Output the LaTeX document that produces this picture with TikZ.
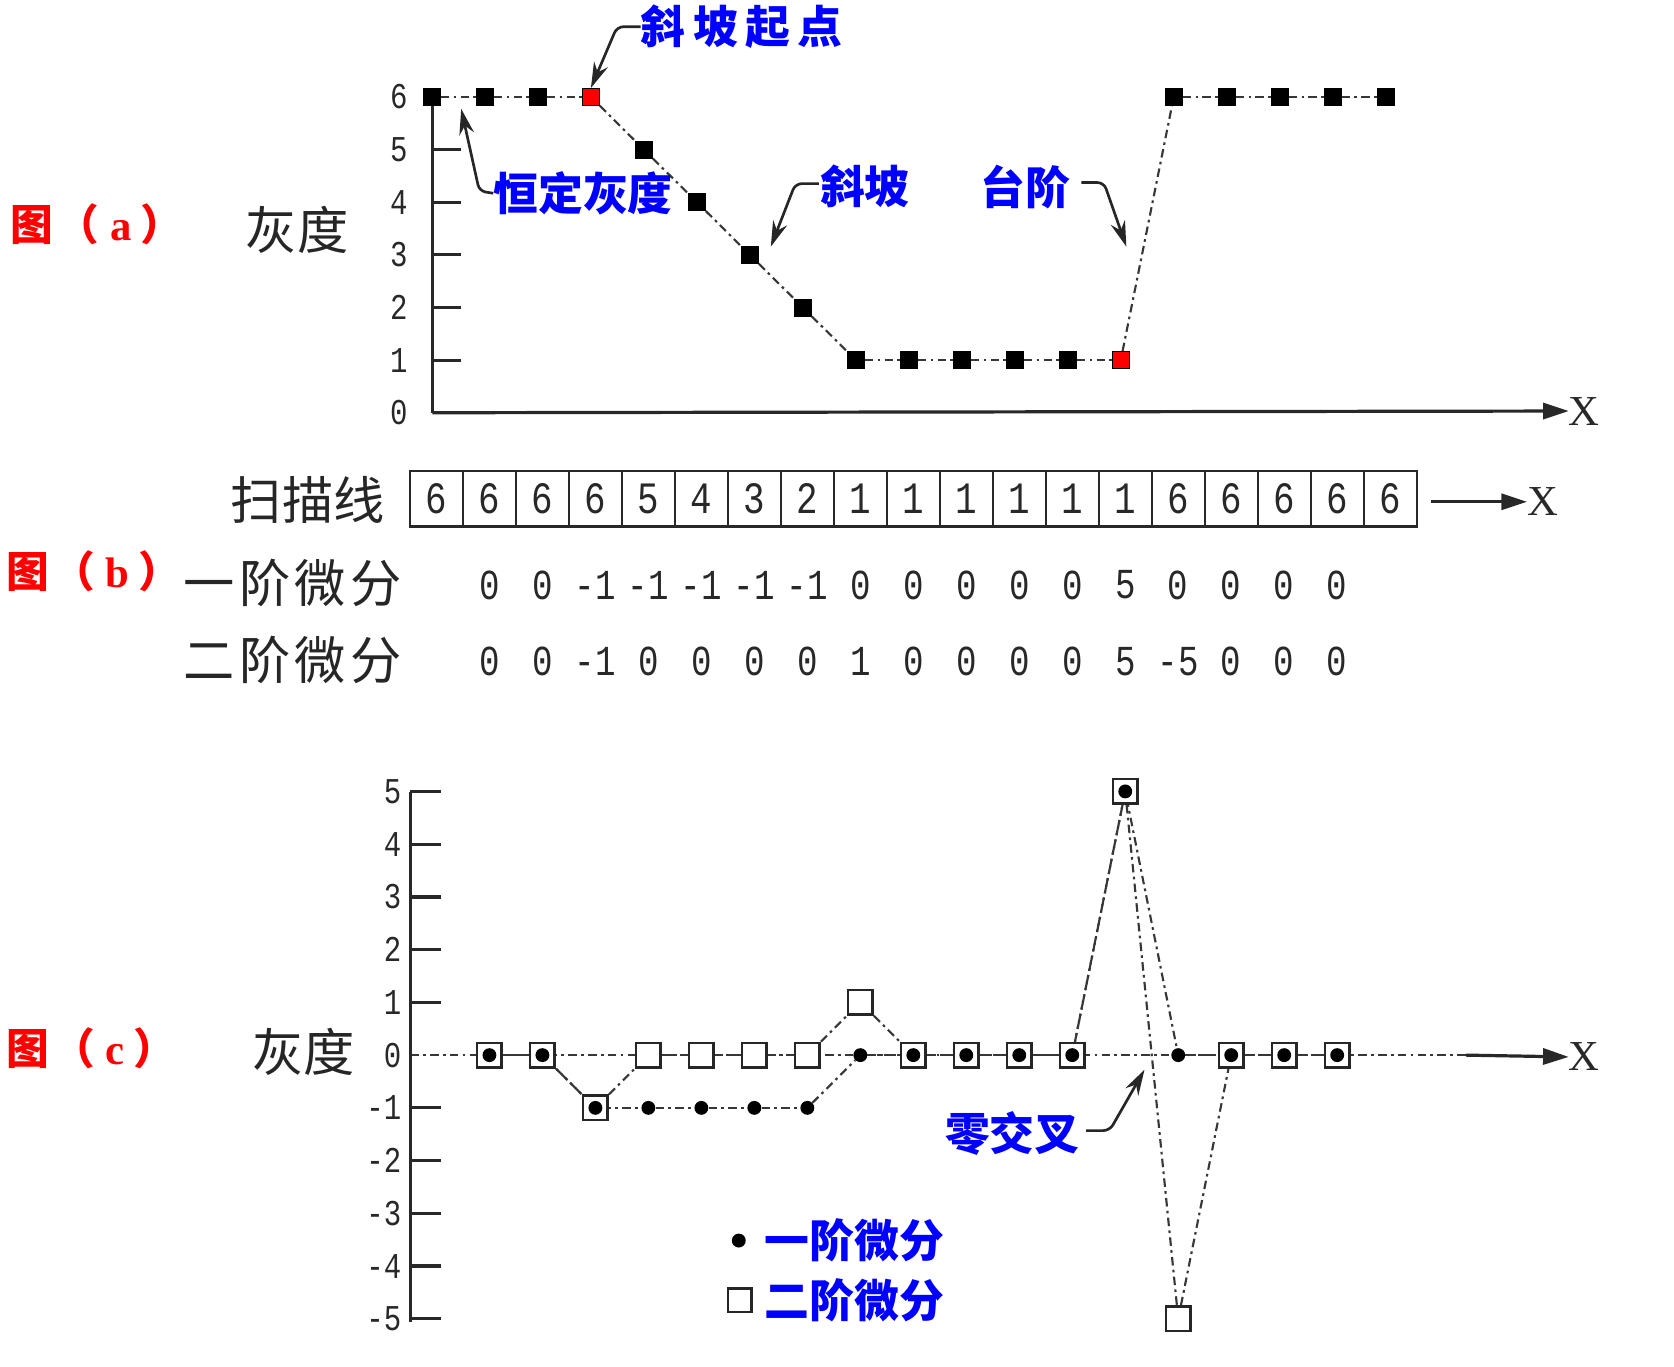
\documentclass[tikz,border=0pt]{standalone}
\usepackage{fontspec}
\usetikzlibrary{arrows.meta,backgrounds}
\newfontfamily\cjk{Noto Sans CJK SC}
\newfontfamily\dig[FakeStretch=0.8]{Liberation Mono}
\newfontfamily\serx{Liberation Serif}
\definecolor{lblblue}{RGB}{0,0,255}
\definecolor{axc}{RGB}{40,40,40}
\definecolor{ddc}{RGB}{55,55,55}
\newcommand{\figtag}[1]{图\hspace{3pt}（\hspace{10pt}{\serx\bfseries #1}\hspace{8pt}）}
\begin{document}
\begin{tikzpicture}[x=1pt,y=-1pt,
  bluelbl/.style={font={\cjk\bfseries\fontsize{42}{42}\selectfont}, text=lblblue, inner sep=0pt, anchor=west},
  blacklbl/.style={font={\cjk\fontsize{48}{48}\selectfont}, inner sep=0pt, anchor=west, text=black!85},
  redlbl/.style={font={\cjk\bfseries\fontsize{40}{40}\selectfont}, text=red, inner sep=0pt, anchor=west},
  ticklbl/.style={font={\dig\fontsize{34}{34}\selectfont}, inner sep=0pt, anchor=east, text=axc},
  vallbl/.style={font={\dig\fontsize{40}{40}\selectfont}, inner sep=0pt, text=axc},
  xlbl/.style={font={\serx\fontsize{40}{40}\selectfont}, inner sep=0pt, text=axc},
  axisline/.style={line width=3pt, draw=axc},
  dd/.style={line width=2pt, draw=ddc, dash pattern=on 8pt off 4pt on 2.5pt off 4pt},
  annot/.style={line width=2.5pt, draw=black!85, rounded corners=6pt, -{Stealth[length=24pt,width=14pt,inset=8pt]}},
  axarrow/.style={-{Triangle[length=24pt,width=15pt]}},
  sqa/.style={rectangle, minimum size=16pt, inner sep=0pt, draw=black, line width=0.8pt},
  sqc/.style={rectangle, minimum size=23pt, inner sep=0pt, draw=black!85, line width=2.4pt, fill=white},
  dotc/.style={circle, minimum size=13pt, inner sep=0pt, fill=black},
  cellbox/.style={rectangle, minimum width=49.63pt, minimum height=52pt, inner sep=0pt, draw=axc, line width=2.2pt, font={\dig\fontsize{42}{42}\selectfont}, text=axc}
]
\useasboundingbox (0,0) rectangle (1568,1280);

% ================= Panel (a) =================
\node[redlbl] (figa) at (10,210) {\figtag{a}};
\node[blacklbl] (gya) at (230,215) {灰度};
\coordinate (aorig) at (405,386.6);
\coordinate (atop) at (405,90.6);
\node[xlbl] (xa) at (1484,385) {X};
\draw[axisline] (atop) -- (aorig);
\draw[axisline, axarrow] (aorig) -- (xa.west);
\foreach \v in {1,...,5} {
  \draw[axisline] (405,{386.6-49.3*\v}) -- (431.8,{386.6-49.3*\v});
}
\foreach \v in {0,...,6} {
  \node[ticklbl] (tya\v) at (382,{386.6-49.3*\v}) {\v};
}
\foreach \v/\c [count=\i] in {6/black,6/black,6/black,6/red,5/black,4/black,3/black,2/black,1/black,1/black,1/black,1/black,1/black,1/red,6/black,6/black,6/black,6/black,6/black} {
  \node[sqa, fill=\c] (a\i) at ({404.6+49.63*(\i-1)},{386.6-49.3*\v}) {};
}
\foreach \i [evaluate=\i as \j using int(\i+1)] in {1,...,18} {
  \draw[dd] (a\i) -- (a\j);
}
% annotations
\node[bluelbl] (l1) at (600,25) {斜\hspace{7pt}坡\hspace{7pt}起\hspace{7pt}点};
\draw[annot] (l1.west) -- ++(-22,0) -- (a4.north);
\node[bluelbl] (l2) at (462,181) {恒定灰度};
\coordinate (t2) at (432,102);
\draw[annot] (l2.west) -- ++(-13,-2) -- (t2);
\node[bluelbl] (l3) at (768,175) {斜坡};
\coordinate (t3) at (722,231);
\draw[annot] (l3.west) ++(-1,-3) -- ++(-22,0) -- (t3);
\node[bluelbl] (l4) at (918,175) {台阶};
\coordinate (s4) at (1013,171);
\coordinate (t4) at (1055,231);
\draw[annot] (s4) -- ++(21,0) -- (t4);

% ================= Panel (b) =================
\node[blacklbl] (scan) at (216,468) {扫描线};
\foreach \v [count=\i] in {6,6,6,6,5,4,3,2,1,1,1,1,1,1,6,6,6,6,6} {
  \node[cellbox] (c\i) at ({408.8+49.63*(\i-1)},467) {\v};
}
\node[xlbl] (xb) at (1445,470) {X};
\coordinate (bst) at (1340,470);
\draw[line width=2.6pt, draw=axc, axarrow] (bst) -- (xb.west);
\node[redlbl] (figb) at (6,535) {\figtag{b}};
\node[blacklbl] (d1lbl) at (172,546) {一\hspace{4pt}阶\hspace{4pt}微\hspace{4pt}分};
\node[blacklbl] (d2lbl) at (172,618) {二\hspace{4pt}阶\hspace{4pt}微\hspace{4pt}分};
\foreach \v [count=\k] in {0,0,-1,-1,-1,-1,-1,0,0,0,0,0,5,0,0,0,0} {
  \node[vallbl] (da\k) at ({408.8+49.63*\k},548) {\v};
}
\foreach \v [count=\k] in {0,0,-1,0,0,0,0,1,0,0,0,0,5,-5,0,0,0} {
  \node[vallbl] (db\k) at ({408.8+49.63*\k},620) {\v};
}

% ================= Panel (c) =================
\node[redlbl] (figc) at (6,982) {\figtag{c}};
\node[blacklbl] (gyc) at (236,985) {灰度};
\coordinate (ctop) at (384.4,741.5);
\coordinate (cbot) at (384.4,1238.3);
\coordinate (corig) at (384.4,988.3);
\coordinate (cdash) at (1373,988.3);
\node[xlbl] (xc) at (1484,990) {X};
\draw[axisline] (ctop) -- (cbot);
\foreach \v in {-5,...,-1,1,2,3,4,5} {
  \draw[axisline] (384.4,{988.3-49.4*\v}) -- (413.5,{988.3-49.4*\v});
}
\foreach \v [count=\k] in {-5,...,5} {
  \node[ticklbl] (tyc\k) at (376,{988.3-49.4*\v}) {\v};
}
\draw[axisline, axarrow] (cdash) -- (xc.west);
\foreach \u/\w [count=\k] in {0/0,0/0,-1/-1,-1/0,-1/0,-1/0,-1/0,0/1,0/0,0/0,0/0,0/0,5/5,0/-5,0/0,0/0,0/0} {
  \node[sqc] (q\k) at ({408.8+49.63*\k},{988.3-49.4*\w}) {};
  \node[dotc] (p\k) at ({408.8+49.63*\k},{988.3-49.4*\u}) {};
}
\begin{scope}[on background layer]
  \draw[dd] (corig) -- (cdash);
  \foreach \i [evaluate=\i as \j using int(\i+1)] in {1,...,16} {
    \draw[dd] (p\i) -- (p\j);
    \draw[dd] (q\i) -- (q\j);
  }
\end{scope}
% zero crossing annotation
\node[bluelbl] (lz) at (885,1062) {零交叉};
\coordinate (tz) at (1072,1002);
\draw[annot] (lz.east) ++(6,-3) -- ++(22,0) -- (tz);
% legend
\node[dotc] (legdot) at (692,1162) {};
\node[bluelbl] (legt1) at (716,1162) {一阶微分};
\node[sqc, minimum size=22pt] (legsq) at (693,1218) {};
\node[bluelbl] (legt2) at (716,1218) {二阶微分};
\end{tikzpicture}
\end{document}
